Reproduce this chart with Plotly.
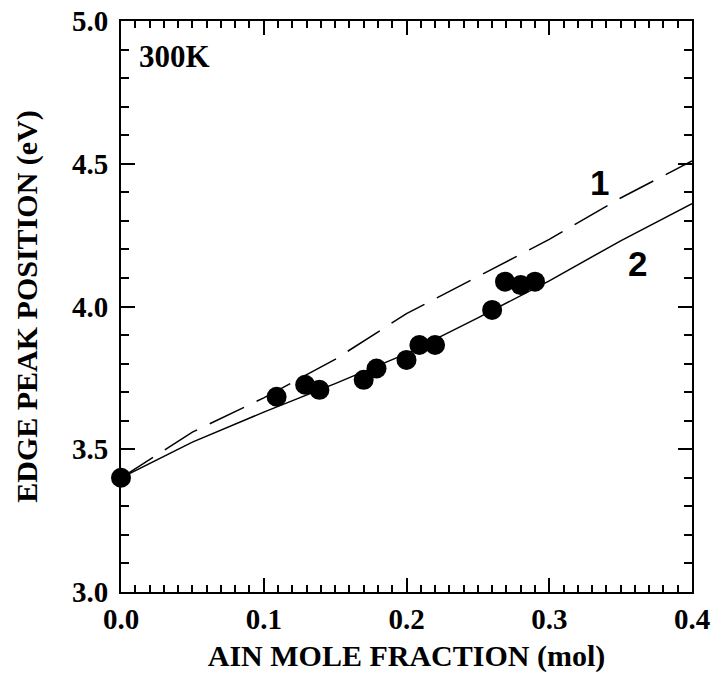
import plotly.graph_objects as go

# Measured data points
x_pts = [0.0, 0.109, 0.129, 0.139, 0.170, 0.179, 0.200, 0.209, 0.220, 0.260, 0.269, 0.280, 0.290]
y_pts = [3.40, 3.684, 3.726, 3.708, 3.743, 3.783, 3.813, 3.865, 3.865, 3.988, 4.087, 4.075, 4.087]

# Curve 1 (dashed)
x_c1 = [0.0, 0.05, 0.10, 0.15, 0.20, 0.25, 0.30, 0.35, 0.40]
y_c1 = [3.40, 3.56, 3.68, 3.815, 3.975, 4.105, 4.235, 4.38, 4.51]

# Curve 2 (solid)
x_c2 = [0.0, 0.05, 0.10, 0.15, 0.20, 0.25, 0.30, 0.35, 0.40]
y_c2 = [3.40, 3.525, 3.63, 3.73, 3.835, 3.96, 4.09, 4.23, 4.36]

x_ticks = [0.0, 0.1, 0.2, 0.3, 0.4]
y_ticks = [3.0, 3.5, 4.0, 4.5, 5.0]

SERIF = "Liberation Serif"

fig = go.Figure()
fig.add_trace(go.Scatter(x=x_c1, y=y_c1, mode="lines",
                         line=dict(color="black", width=1.5, dash="38px,14px"),
                         showlegend=False))
fig.add_trace(go.Scatter(x=x_c2, y=y_c2, mode="lines",
                         line=dict(color="black", width=1.5),
                         showlegend=False))
fig.add_trace(go.Scatter(x=x_pts, y=y_pts, mode="markers",
                         marker=dict(color="black", size=20),
                         showlegend=False, cliponaxis=False))

axis_common = dict(
    showgrid=False, zeroline=False, showline=True, linecolor="black", linewidth=2,
    mirror="ticks", ticks="inside", ticklen=14, tickwidth=2, tickcolor="black",
    tickfont=dict(family=SERIF, size=29, color="black", weight="bold"),
    tickformat=".1f", automargin=False,
)

fig.update_xaxes(range=[0, 0.4], tickvals=x_ticks, ticklabelstandoff=0,
                 minor=dict(dtick=0.01, ticks="inside", ticklen=7, tickwidth=1.5, tickcolor="black"),
                 title=dict(text="AIN MOLE FRACTION (mol)",
                            font=dict(family=SERIF, size=30, color="black", weight="bold"),
                            standoff=16),
                 **axis_common)
fig.update_yaxes(range=[3.0, 5.0], tickvals=y_ticks, ticklabelstandoff=5,
                 minor=dict(dtick=0.1, ticks="inside", ticklen=8, tickwidth=1.5, tickcolor="black"),
                 title=dict(text="EDGE PEAK POSITION (eV)",
                            font=dict(family=SERIF, size=30, color="black", weight="bold"),
                            standoff=25),
                 **axis_common)

fig.add_annotation(x=0.0112, y=4.874, xref="x", yref="y", text="300K", showarrow=False,
                   xanchor="left", yanchor="middle",
                   font=dict(family=SERIF, size=31, color="black", weight="bold"))
fig.add_annotation(x=0.3355, y=4.433, xref="x", yref="y", text="1", showarrow=False,
                   font=dict(family="Liberation Sans", size=35, color="black", weight="bold"))
fig.add_annotation(x=0.362, y=4.149, xref="x", yref="y", text="2", showarrow=False,
                   font=dict(family="Liberation Sans", size=35, color="black", weight="bold"))

fig.update_layout(
    width=716, height=673,
    margin=dict(l=121, r=24, t=21, b=81),
    plot_bgcolor="white", paper_bgcolor="white",
)

fig.write_html("out.html", config={"displayModeBar": False},
               post_script="document.body.style.margin='0px';document.body.style.padding='0px';")
